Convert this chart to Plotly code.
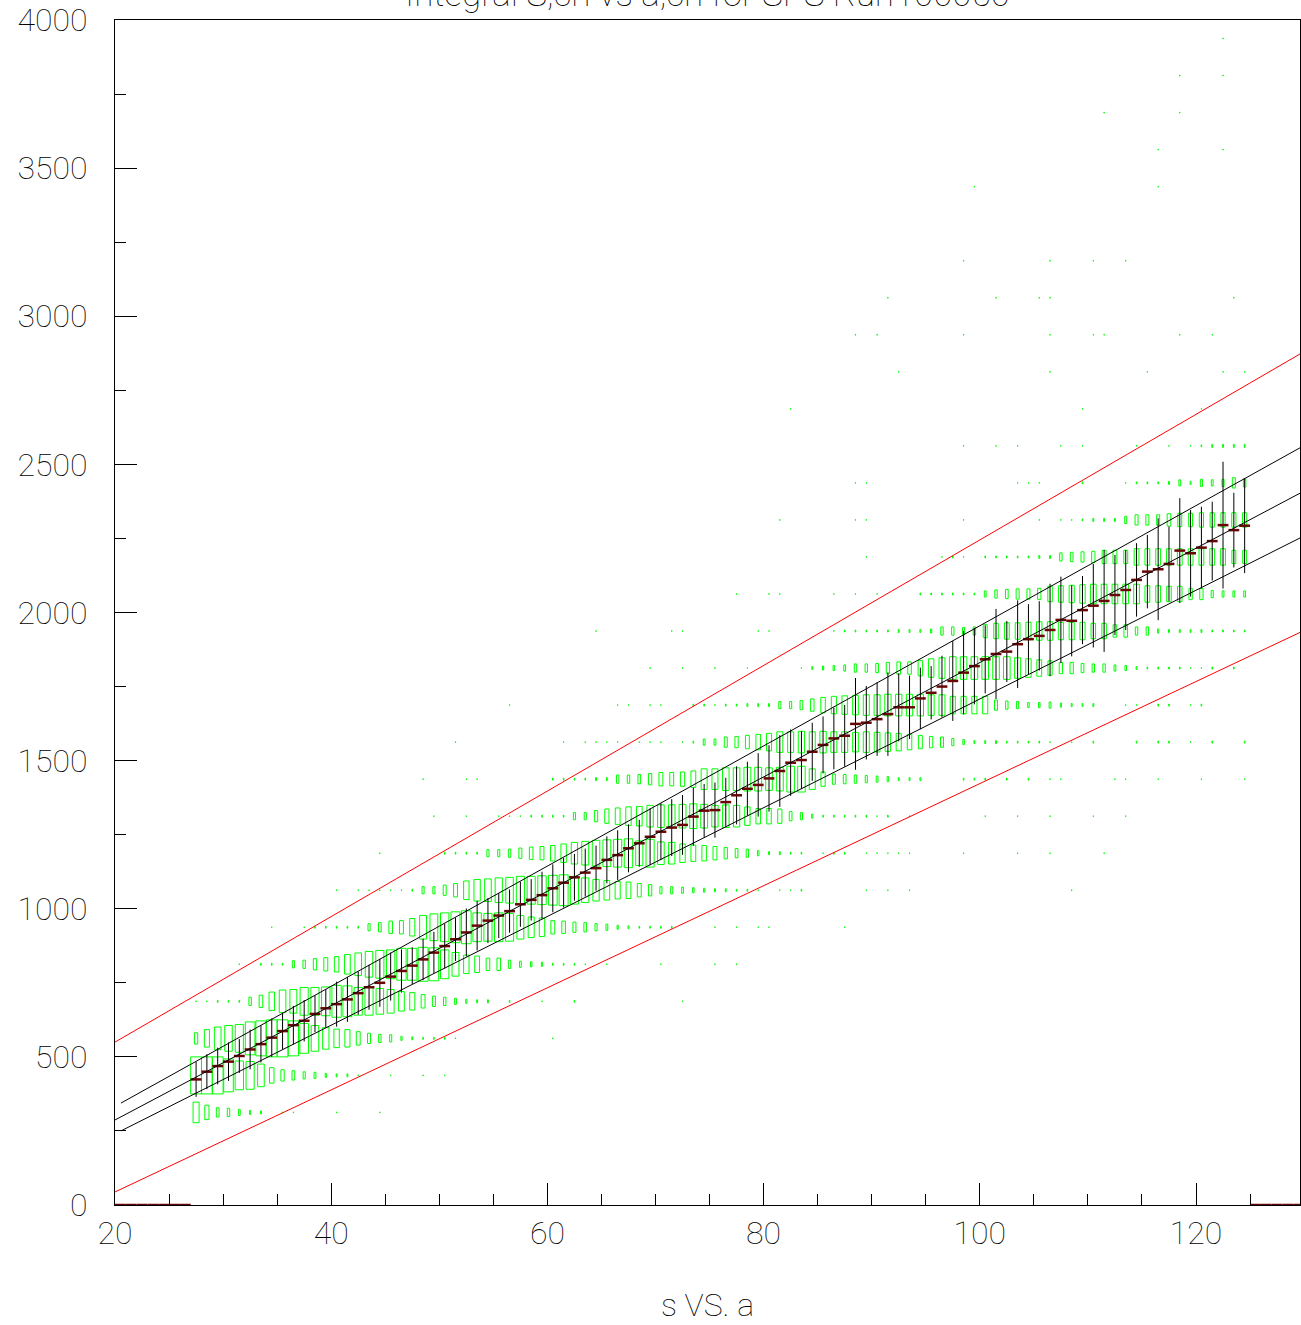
import plotly.graph_objects as go

# ---------------------------------------------------------------------------
# Axis ranges and binning
# ---------------------------------------------------------------------------
X_RANGE = [20.0, 129.62]
Y_RANGE = [0.0, 4000.0]
X_BIN_WIDTH = 1.0
Y_BIN_WIDTH = 125.0

TITLE = "Integral S,ch vs a,ch for SPS Run r00050"
X_TITLE = "s VS. a"

# ---------------------------------------------------------------------------
# 2-D histogram contents (box option).  Each row is one y bin
# (bin j covers [125*j, 125*(j+1))) written as segments
# (low edge of first x bin, [contents of consecutive x bins]).
# ---------------------------------------------------------------------------
ROW_02 = [(27, [20, 14, 9, 8, 6, 4, 3, 0, 1, 1]), (40, [1]), (44, [1])]
ROW_03 = [(27, [36, 36, 36, 32, 28, 27, 22, 15, 11, 9, 7, 6, 4, 3, 3, 1]),
          (45, [1]), (48, [1]), (50, [1])]
ROW_04 = [(27, [11, 17, 22, 25, 27, 32, 34, 36, 36, 34, 29, 25, 21, 18, 17,
                13, 10, 8, 7, 4, 3, 2, 2, 2, 1]), (60, [1])]
ROW_05 = [(27, [1, 1, 2, 2, 2, 8, 12, 18, 22, 23, 27, 27, 28, 31, 30, 27, 27,
                25, 23, 19, 17, 13, 10, 8, 6, 4, 3, 3]),
          (56, [2]), (59, [1]), (62, [2]), (72, [1])]
ROW_06 = [(31, [1, 0, 2, 2, 2, 7, 8, 11, 13, 15, 19, 22, 25, 27, 28, 31, 31,
                33, 32, 28, 23, 18, 16, 12, 12, 8, 6, 5, 4, 2, 2, 2, 1]),
          (65, [1]), (70, [1]), (75, [1]), (77, [1])]
ROW_07 = [(34, [1, 0, 0, 1, 2, 2, 2, 2, 2, 7, 9, 12, 13, 17, 23, 26, 28, 30,
                32, 28, 27, 28, 27, 23, 20, 18, 13, 12, 10, 9, 7, 6, 4, 3, 2,
                2, 2, 2]),
          (75, [1]), (77, [1]), (79, [1, 1]), (87, [1])]
ROW_08 = [(40, [1, 0, 1, 1, 1, 1, 1, 2, 7, 7, 10, 13, 18, 21, 22, 24, 25, 27,
                27, 28, 29, 30, 27, 24, 21, 19, 17, 16, 13, 11, 7, 7, 6, 5, 4,
                3, 3, 2, 2, 1, 0, 1, 1, 2]),
          (89, [1]), (91, [1]), (93, [1]), (108, [1])]
ROW_09 = [(44, [1]),
          (50, [2, 2, 2, 2, 7, 7, 8, 10, 12, 13, 15, 18, 21, 23, 25, 26, 27,
                28, 24, 27, 22, 21, 18, 16, 15, 13, 11, 9, 8, 5, 3, 3, 2, 2, 0,
                1, 2, 2, 0, 1, 1, 1, 1, 1]),
          (98, [1]), (103, [1]), (106, [1]), (111, [1])]
ROW_10 = [(49, [1, 0, 0, 1, 0, 0, 1, 1, 1, 2, 2, 2, 2, 7, 7, 11, 14, 16, 18,
                19, 21, 22, 22, 23, 24, 23, 21, 22, 21, 18, 15, 15, 14, 9, 7,
                4, 2, 2, 2, 2, 2, 1, 2, 0, 1]),
          (100, [1]), (103, [1]), (106, [1]), (110, [1]), (113, [1])]
ROW_11 = [(48, [1]), (52, [1, 1]),
          (60, [2, 2, 2, 2, 3, 3, 8, 8, 9, 11, 13, 13, 14, 16, 20, 20, 22, 22,
                23, 23, 22, 23, 25, 25, 20, 14, 10, 9, 8, 7, 6, 5, 3, 3, 3, 0,
                0, 0, 2, 2, 2, 0, 2, 0, 2, 0, 1, 1]),
          (112, [1, 1]), (116, [1]), (120, [1]), (124, [1])]
ROW_12 = [(51, [1]),
          (61, [1, 0, 1, 1, 1, 1, 0, 1, 1, 1, 0, 1, 2, 6, 6, 10, 11, 13, 15,
                17, 20, 20, 21, 20, 21, 20, 20, 19, 20, 19, 18, 17, 15, 13, 11,
                10, 7, 5, 3, 3, 3, 2, 2, 2, 2, 1, 0, 1, 0, 2]),
          (114, [2, 0, 2, 2, 0, 1, 0, 2, 0, 0, 2])]
ROW_13 = [(56, [1]),
          (66, [1, 1, 0, 1, 1, 0, 0, 2, 2, 1, 2, 2, 3, 3, 3, 7, 7, 9, 12, 15,
                17, 18, 19, 20, 20, 21, 21, 21, 21, 20, 20, 17, 17, 17, 17, 10,
                8, 7, 5, 5, 6, 4, 3, 3, 3, 0, 0, 1, 1, 0, 2, 2, 0, 1, 2])]
ROW_14 = [(69, [1]), (72, [1]), (75, [1]), (78, [1]),
          (83, [1, 3, 4, 5, 6, 8, 8, 9, 11, 12, 12, 15, 18, 20, 22, 22, 22,
                22, 22, 22, 20, 18, 16, 14, 11, 11, 9, 8, 8, 6, 5, 3, 2, 2, 2,
                2, 1, 1, 2, 0, 2])]
ROW_15 = [(64, [1]), (71, [1, 1]), (79, [1, 1]),
          (86, [1, 2, 2, 2, 2, 2, 3, 3, 3, 4, 8, 8, 7, 8, 13, 15, 16, 16, 17,
                18, 18, 17, 17, 17, 15, 15, 12, 12, 8, 8, 4, 3, 3, 3, 3, 2, 2,
                2, 2])]
ROW_16 = [(77, [1]), (80, [1, 1]), (86, [1]), (88, [1]), (90, [1]),
          (94, [2, 2, 2, 2, 2, 2, 6, 8, 9, 10, 10, 11, 15, 16, 17, 18, 19, 19,
                19, 19, 19, 16, 16, 15, 15, 11, 11, 7, 6, 6, 6])]
ROW_17 = [(89, [1]),
          (96, [1, 2, 1, 0, 2, 2, 2, 2, 2, 3, 3, 8, 9, 10, 11, 13, 13, 13, 16,
                16, 16, 16, 16, 16, 16, 16, 16, 13, 13])]
ROW_18 = [(81, [1]), (88, [1, 1]), (98, [1]),
          (105, [1, 0, 1, 1, 2, 3, 3, 3, 7, 10, 10, 10, 12, 13, 13, 14, 14, 14,
                 14, 14])]
ROW_19 = [(88, [1, 1]), (103, [1, 1, 1]), (109, [2]),
          (113, [1, 2, 2, 2, 3, 6, 3, 7, 6, 7, 10, 8])]
ROW_20 = [(98, [1]), (101, [1]), (103, [1]), (107, [1]), (109, [1]),
          (114, [1]), (117, [1]), (119, [1, 2, 3, 3, 3, 3])]
ROW_21 = [(82, [1]), (109, [1]), (120, [1])]
ROW_22 = [(92, [1]), (106, [1]), (115, [1]), (122, [1]), (124, [1])]
ROW_23 = [(88, [1]), (90, [1]), (98, [1]), (106, [1]), (110, [1, 1]),
          (118, [1]), (121, [1])]
ROW_24 = [(91, [1]), (101, [1]), (105, [1, 1]), (123, [1])]
ROW_25 = [(98, [1]), (106, [1]), (110, [1]), (113, [1])]
ROW_27 = [(99, [1]), (116, [1])]
ROW_28 = [(116, [1]), (122, [1])]
ROW_29 = [(111, [1]), (118, [1])]
ROW_30 = [(118, [1]), (122, [1])]
ROW_31 = [(122, [1])]

HIST_ROWS = {
    2: ROW_02, 3: ROW_03, 4: ROW_04, 5: ROW_05, 6: ROW_06, 7: ROW_07,
    8: ROW_08, 9: ROW_09, 10: ROW_10, 11: ROW_11, 12: ROW_12, 13: ROW_13,
    14: ROW_14, 15: ROW_15, 16: ROW_16, 17: ROW_17, 18: ROW_18, 19: ROW_19,
    20: ROW_20, 21: ROW_21, 22: ROW_22, 23: ROW_23, 24: ROW_24, 25: ROW_25,
    27: ROW_27, 28: ROW_28, 29: ROW_29, 30: ROW_30, 31: ROW_31,
}

# ---------------------------------------------------------------------------
# Profile of s versus a (mean and spread per x bin)
# ---------------------------------------------------------------------------
PROFILE_FIRST_BIN = 27
PROFILE_MEAN = [
    424, 450, 469, 484, 503, 525, 543, 565, 587, 607,
    622, 645, 664, 678, 694, 715, 735, 750, 771, 790,
    808, 829, 852, 874, 897, 920, 943, 960, 977, 992,
    1015, 1030, 1046, 1069, 1088, 1106, 1122, 1137, 1165, 1181,
    1204, 1221, 1243, 1260, 1274, 1283, 1311, 1331, 1333, 1360,
    1383, 1405, 1418, 1440, 1465, 1493, 1502, 1530, 1553, 1575,
    1584, 1624, 1628, 1640, 1657, 1680, 1680, 1710, 1729, 1750,
    1769, 1797, 1819, 1842, 1860, 1868, 1893, 1910, 1921, 1941,
    1975, 1972, 2008, 2023, 2039, 2059, 2076, 2110, 2138, 2146,
    2164, 2209, 2200, 2219, 2241, 2295, 2278, 2293,
]
PROFILE_SPREAD = [
    59, 59, 62, 65, 57, 67, 62, 65, 62, 65,
    70, 62, 65, 76, 76, 73, 76, 81, 81, 73,
    62, 70, 70, 76, 73, 81, 84, 76, 76, 73,
    76, 70, 79, 81, 84, 79, 81, 76, 79, 84,
    81, 79, 96, 96, 96, 101, 98, 90, 93, 82,
    98, 91, 107, 112, 121, 112, 98, 98, 96, 104,
    104, 155, 124, 124, 141, 115, 107, 104, 90, 104,
    135, 141, 129, 115, 152, 103, 148, 118, 117, 156,
    146, 120, 115, 141, 172, 135, 135, 124, 124, 172,
    126, 177, 146, 138, 133, 214, 126, 160,
]
# Profile bins without entries (drawn at zero)
EMPTY_BINS = [20, 21, 22, 23, 24, 25, 26, 125, 126, 127, 128, 129]

# ---------------------------------------------------------------------------
# Straight lines: (slope, intercept) and x extent
# ---------------------------------------------------------------------------
FIT_CENTRE = (19.30, -99.0)
FIT_UPPER = (20.28, -72.8)
FIT_LOWER = (18.35, -127.0)
CUT_UPPER = (21.19, 126.0)
CUT_LOWER = (17.23, -300.6)
CENTRE_X = (20.0, 130.0)
BAND_X = (20.55, 130.0)
CUT_X = (20.0, 130.0)

GREEN = "#00ff00"
RED = "#ff0000"
MAROON = "#6a0505"
FONT_FAMILY = "Roboto, Inter, 'DejaVu Sans', sans-serif"

# ---------------------------------------------------------------------------
# Build box outlines: side length proportional to bin content
# ---------------------------------------------------------------------------
c_max = max(max(v) for row in HIST_ROWS.values() for _, v in row)
box_x, box_y = [], []
for j, segments in HIST_ROWS.items():
    yc = (j + 0.5) * Y_BIN_WIDTH
    for start, values in segments:
        for k, c in enumerate(values):
            if c <= 0:
                continue
            xc = start + k * X_BIN_WIDTH + 0.5 * X_BIN_WIDTH
            f = c / c_max
            hw = 0.5 * X_BIN_WIDTH * f
            hh = 0.5 * Y_BIN_WIDTH * f
            box_x += [xc - hw, xc + hw, xc + hw, xc - hw, xc - hw, None]
            box_y += [yc - hh, yc - hh, yc + hh, yc + hh, yc - hh, None]

fig = go.Figure()

fig.add_trace(go.Scatter(
    x=box_x, y=box_y, mode="lines",
    line=dict(color=GREEN, width=1),
    hoverinfo="skip", showlegend=False,
))

# profile points with spread error bars
prof_x = [PROFILE_FIRST_BIN + i + 0.5 for i in range(len(PROFILE_MEAN))]
prof_x += [b + 0.5 for b in EMPTY_BINS]
prof_y = list(PROFILE_MEAN) + [0] * len(EMPTY_BINS)
prof_e = list(PROFILE_SPREAD) + [0] * len(EMPTY_BINS)
fig.add_trace(go.Scatter(
    x=prof_x, y=prof_y, mode="markers",
    marker=dict(size=1, color=MAROON, opacity=0),
    error_y=dict(type="data", array=prof_e, symmetric=True,
                 color="black", thickness=1, width=0),
    error_x=dict(type="constant", value=0.5 * X_BIN_WIDTH,
                 color=MAROON, thickness=2.5, width=0),
    hoverinfo="skip", showlegend=False,
))


def line_points(params, extent):
    slope, intercept = params
    xs = list(extent)
    return xs, [slope * x + intercept for x in xs]


for params, extent in ((FIT_CENTRE, CENTRE_X), (FIT_UPPER, BAND_X),
                       (FIT_LOWER, BAND_X)):
    lx, ly = line_points(params, extent)
    fig.add_trace(go.Scatter(x=lx, y=ly, mode="lines",
                             line=dict(color="black", width=1),
                             hoverinfo="skip", showlegend=False))

for params in (CUT_UPPER, CUT_LOWER):
    lx, ly = line_points(params, CUT_X)
    fig.add_trace(go.Scatter(x=lx, y=ly, mode="lines",
                             line=dict(color=RED, width=1),
                             hoverinfo="skip", showlegend=False))

tick_font = dict(family=FONT_FAMILY, size=32, color="black", weight=100)
title_font = dict(family=FONT_FAMILY, size=35, color="black", weight=100)

fig.update_layout(
    width=1301, height=1325,
    margin=dict(l=115, r=1, t=20, b=120, pad=0),
    paper_bgcolor="white", plot_bgcolor="white",
    showlegend=False,
    font=tick_font,
    xaxis=dict(
        range=X_RANGE, showgrid=False, zeroline=False,
        showline=True, mirror=True, linecolor="black", linewidth=1,
        ticks="inside", ticklen=22, tickwidth=1, tickcolor="black",
        tick0=20, dtick=20, tickfont=tick_font, ticklabelstandoff=0,
        minor=dict(ticks="inside", ticklen=11, tickwidth=1,
                   tickcolor="black", dtick=5, tick0=20, showgrid=False),
    ),
    yaxis=dict(
        range=Y_RANGE, showgrid=False, zeroline=False,
        showline=True, mirror=True, linecolor="black", linewidth=1,
        ticks="inside", ticklen=22, tickwidth=1, tickcolor="black",
        tick0=0, dtick=500, tickfont=tick_font, ticklabelstandoff=20,
        minor=dict(ticks="inside", ticklen=11, tickwidth=1,
                   tickcolor="black", dtick=250, tick0=0, showgrid=False),
    ),
    annotations=[
        dict(text=TITLE, xref="paper", yref="paper", x=0.5, y=1.0,
             xanchor="center", yanchor="bottom", yshift=3, showarrow=False,
             font=title_font),
        dict(text=X_TITLE, xref="paper", yref="paper", x=0.5, y=0.0,
             xanchor="center", yanchor="middle", yshift=-100,
             showarrow=False, font=tick_font),
    ],
)

fig.write_html("out.html")
